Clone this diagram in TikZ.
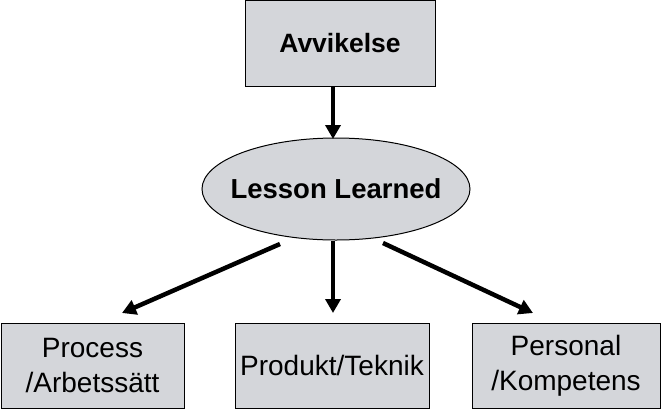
\documentclass[tikz,border=0pt]{standalone}
\usepackage{fontspec}
\setmainfont{Liberation Sans}
\usetikzlibrary{shapes.geometric,arrows.meta}
\definecolor{boxgray}{RGB}{212,214,218}
\begin{document}
\begin{tikzpicture}[x=1pt,y=-1pt,
  box/.style={draw=black,fill=boxgray,line width=1pt,inner sep=0pt,align=center},
  oval/.style={draw=black,fill=boxgray,line width=1pt,ellipse,inner sep=0pt},
  arr/.style={line width=4.5pt,-{Triangle[length=14pt,width=15pt]}}]
\useasboundingbox (0,0) rectangle (667,413);
\node[box,minimum width=190pt,minimum height=86pt,font=\fontsize{26.5}{30}\selectfont\bfseries] (top) at (340,43.5) {Avvikelse};
\node[oval,minimum width=268pt,minimum height=102pt,
  label={[font=\fontsize{27.5}{30}\selectfont\bfseries]center:Lesson Learned}] (ll) at (336,189) {};
\node[box,minimum width=183pt,minimum height=85pt,font=\fontsize{28}{35}\selectfont] (p1) at (92.5,365.5) {Process\\/Arbetssätt};
\node[box,minimum width=194pt,minimum height=85pt,font=\fontsize{28}{35}\selectfont] (p2) at (332,365.5) {Produkt/Teknik};
\node[box,minimum width=188pt,minimum height=85pt,font=\fontsize{28}{35}\selectfont] (p3) at (566,365.5) {Personal\\/Kompetens};
\coordinate (a0) at (333,87);
\coordinate (t0) at (333,139);
\coordinate (a2) at (333,241);
\coordinate (t2) at (333,313);
\coordinate (a1) at (280,244);
\coordinate (t1) at (122,313);
\coordinate (a3) at (383,243);
\coordinate (t3) at (533,313);
\draw[arr] (a0) -- (t0);
\draw[arr] (a2) -- (t2);
\draw[arr] (a1) -- (t1);
\draw[arr] (a3) -- (t3);
\end{tikzpicture}
\end{document}
